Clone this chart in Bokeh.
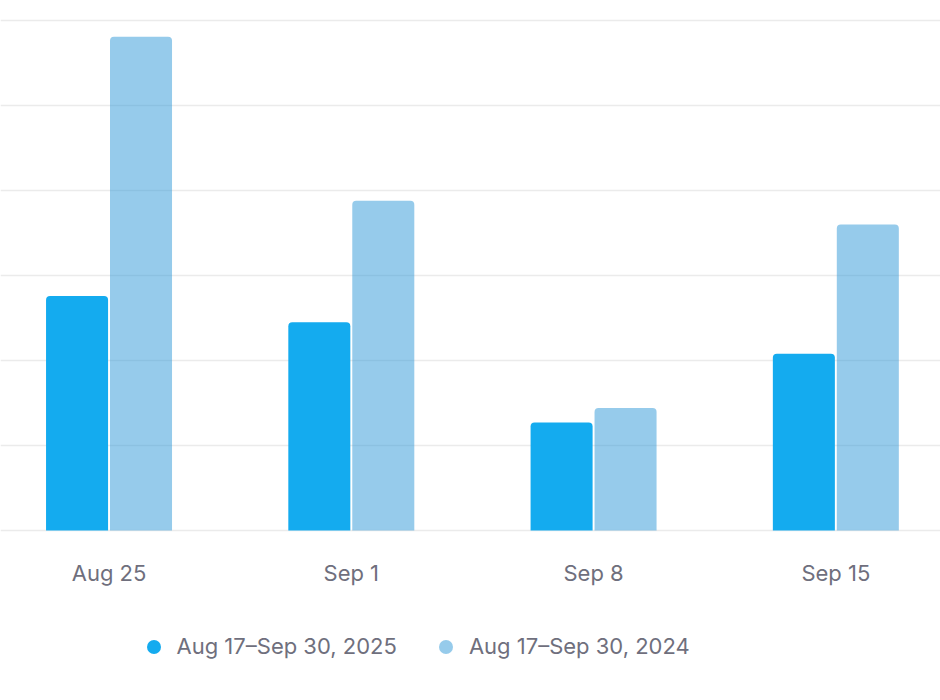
from bokeh.plotting import figure
from bokeh.models import (ColumnDataSource, FixedTicker, LinearAxis, Grid,
                          Legend, LegendItem, Range1d)
from bokeh.transform import dodge
from bokeh.embed import file_html
from bokeh.resources import INLINE

# weekly values (grid step = 1)
weeks = ["Aug 25", "Sep 1", "Sep 8", "Sep 15"]
current = [2.76, 2.45, 1.27, 2.08]
previous = [5.81, 3.88, 1.44, 3.60]
label_current = "Aug 17\u2013Sep 30, 2025"
label_previous = "Aug 17\u2013Sep 30, 2024"
grid_levels = [0, 1, 2, 3, 4, 5, 6]

FONT = "Inter"
TEXT = "#6f6f7d"
BLUE = "#14abef"
LIGHT = "#2e97d8"

idx = list(range(len(weeks)))
source = ColumnDataSource(dict(idx=idx, current=current, previous=previous))

# the frame covers the whole canvas; room under zero holds labels and legend
p = figure(
    width=940, height=690,
    x_range=Range1d(-0.448, 3.432), y_range=Range1d(-1.882, 6.235),
    x_axis_location=None, y_axis_location=None,
    toolbar_location=None, output_backend="svg",
    min_border=0, outline_line_color=None,
)
# drop default grids, add our own horizontal ones
p.center = []
p.add_layout(Grid(dimension=1, ticker=FixedTicker(ticks=grid_levels),
                  grid_line_color="#ebebeb", grid_line_width=1.5))

# bars
p.vbar(x=dodge("idx", -0.132, range=p.x_range), top="current", width=0.256,
       source=source, fill_color=BLUE, line_color=None,
       border_radius=(4, 4, 0, 0))
p.vbar(x=dodge("idx", 0.132, range=p.x_range), top="previous", width=0.256,
       source=source, fill_color=LIGHT, fill_alpha=0.5, line_color=None,
       border_radius=(4, 4, 0, 0))

# x axis with week labels, pinned at zero
xaxis = LinearAxis(
    fixed_location=0,
    ticker=FixedTicker(ticks=idx),
    major_label_overrides={i: w for i, w in enumerate(weeks)},
    axis_line_color=None, major_tick_line_color=None, minor_tick_line_color=None,
    major_tick_out=0, major_tick_in=0, major_label_standoff=29,
    major_label_text_font=FONT, major_label_text_font_size="22px",
    major_label_text_color=TEXT,
)
p.add_layout(xaxis, "below")

# hidden dot renderers, only used to give the legend round markers
r1 = p.scatter(x="idx", y="current", source=source, marker="circle",
               fill_color=BLUE, line_color=None, visible=False)
r2 = p.scatter(x="idx", y="previous", source=source, marker="circle",
               fill_color=LIGHT, fill_alpha=0.5, line_color=None, visible=False)
legend = Legend(
    items=[LegendItem(label=label_current, renderers=[r1]),
           LegendItem(label=label_previous, renderers=[r2])],
    orientation="horizontal", location=(135.5, 26.5), margin=0, padding=0,
    glyph_width=35, glyph_height=35, label_standoff=6, spacing=31,
    label_text_font=FONT, label_text_font_size="22px", label_text_color=TEXT,
    border_line_color=None, background_fill_alpha=0, inactive_fill_alpha=0,
)
p.add_layout(legend, "center")

open("out.html", "w").write(file_html(p, INLINE))
